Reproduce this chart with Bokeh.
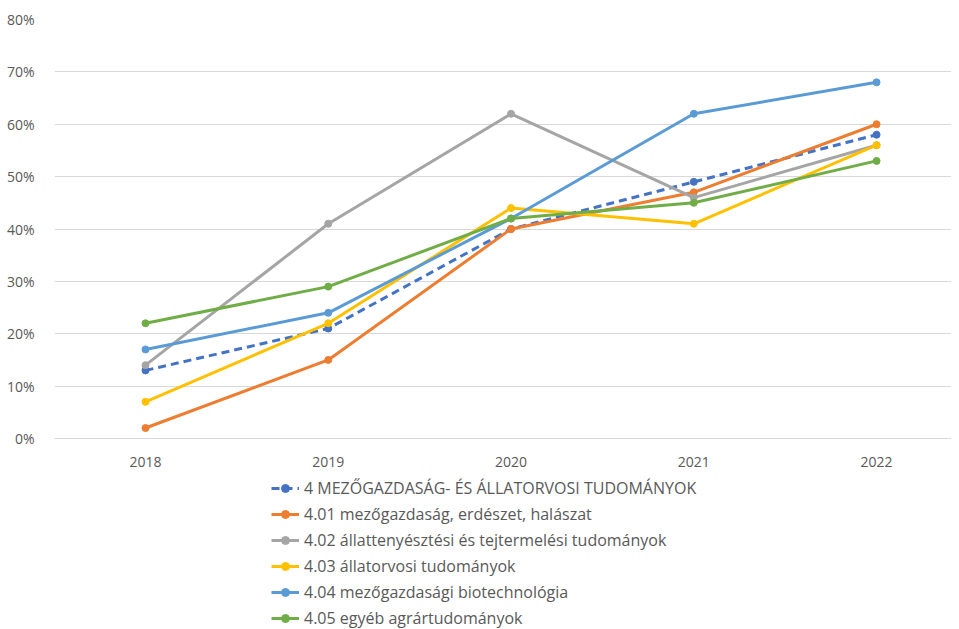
from bokeh.plotting import figure
from bokeh.layouts import column
from bokeh.models import Range1d, FixedTicker, NumeralTickFormatter, Legend, LegendItem
from bokeh.embed import file_html
from bokeh.resources import INLINE

years = [2018, 2019, 2020, 2021, 2022]
total = [0.13, 0.21, 0.40, 0.49, 0.58]
s401 = [0.02, 0.15, 0.40, 0.47, 0.60]
s402 = [0.14, 0.41, 0.62, 0.46, 0.56]
s403 = [0.07, 0.22, 0.44, 0.41, 0.56]
s404 = [0.17, 0.24, 0.42, 0.62, 0.68]
s405 = [0.22, 0.29, 0.42, 0.45, 0.53]

names = [
    "4 MEZŐGAZDASÁG- ÉS ÁLLATORVOSI TUDOMÁNYOK",
    "4.01 mezőgazdaság, erdészet, halászat",
    "4.02 állattenyésztési és tejtermelési tudományok",
    "4.03 állatorvosi tudományok",
    "4.04 mezőgazdasági biotechnológia",
    "4.05 egyéb agrártudományok",
]
series = [total, s401, s402, s403, s404, s405]
colors = ["#4472C4", "#ED7D31", "#A5A5A5", "#FFC000", "#5B9BD5", "#70AD47"]
y_ticks = [0, 0.1, 0.2, 0.3, 0.4, 0.5, 0.6, 0.7, 0.8]

FONT = "Open Sans"
TXT = "#595959"
GRID = "#D9D9D9"

p = figure(frame_width=897, frame_height=419, output_backend="svg", toolbar_location=None,
           x_range=Range1d(2017.502, 2022.41), y_range=Range1d(0, 0.8),
           min_border_left=54, min_border_top=19, min_border_right=0,
           min_border_bottom=32)
p.outline_line_color = None
p.background_fill_color = "white"

p.xgrid.grid_line_color = None
p.ygrid.grid_line_color = GRID
p.ygrid.grid_line_width = 1
p.ygrid.ticker = FixedTicker(ticks=y_ticks)

p.yaxis.ticker = FixedTicker(ticks=y_ticks)
p.yaxis.formatter = NumeralTickFormatter(format="0%")
p.yaxis.axis_line_color = None
p.yaxis.major_tick_line_color = None
p.yaxis.minor_tick_line_color = None
p.yaxis.major_label_standoff = 14
p.yaxis.major_label_text_font = FONT
p.yaxis.major_label_text_font_size = "14px"
p.yaxis.major_label_text_color = TXT

p.xaxis.ticker = FixedTicker(ticks=years)
p.xaxis.axis_line_color = GRID
p.xaxis.major_tick_line_color = None
p.xaxis.minor_tick_line_color = None
p.xaxis.major_label_standoff = 12
p.xaxis.major_label_text_font = FONT
p.xaxis.major_label_text_font_size = "14px"
p.xaxis.major_label_text_color = TXT

# legend-only figure below the chart (its copies of the series lie outside its view)
q = figure(width=951, height=159, output_backend="svg", toolbar_location=None,
           x_axis_location=None, y_axis_location=None,
           x_range=Range1d(2017.502, 2022.41), y_range=Range1d(5, 6),
           min_border_left=0, min_border_right=0, min_border_top=0, min_border_bottom=0)
q.outline_line_color = None
q.xgrid.visible = False
q.ygrid.visible = False

items = []
for i, (name, vals, col) in enumerate(zip(names, series, colors)):
    dash = "8 5" if i == 0 else "solid"
    p.line(years, vals, line_color=col, line_width=3, line_dash=dash)
    p.scatter(years, vals, marker="circle", size=7, fill_color=col, line_color=col)
    r1 = q.line(years, vals, line_color=col, line_width=3, line_dash=dash)
    r2 = q.scatter(years, vals, marker="circle", size=7, fill_color=col, line_color=col)
    items.append(LegendItem(label=name, renderers=[r1, r2]))

legend = Legend(items=items, location=(217, 0), orientation="vertical")
legend.label_text_font = FONT
legend.label_text_font_size = "16px"
legend.label_text_color = TXT
legend.glyph_width = 28
legend.glyph_height = 20
legend.label_height = 20
legend.spacing = 4
legend.padding = 5
legend.margin = 0
legend.label_standoff = 5
legend.border_line_color = None
legend.background_fill_alpha = 0
q.add_layout(legend, "center")

layout = column(p, q, spacing=0)
open("out.html", "w").write(file_html(layout, INLINE))
